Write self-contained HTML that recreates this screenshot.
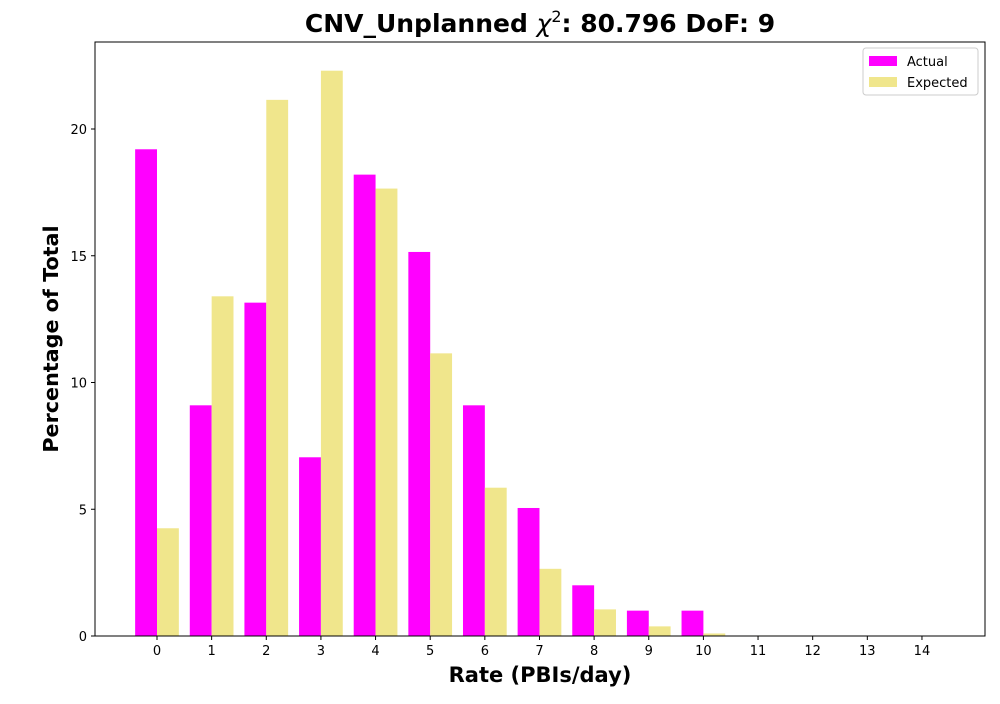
<!DOCTYPE html>
<html><head><meta charset="utf-8"><style>
body{margin:0;background:#fff;font-family:"DejaVu Sans","Liberation Sans",sans-serif}
</style></head><body>
<svg id="chart" width="1000" height="700" xmlns="http://www.w3.org/2000/svg">
<rect width="1000" height="700" fill="#fff"/>
<text x="540" y="32" text-anchor="middle" font-size="25" font-weight="bold">CNV_Unplanned <tspan font-style="italic" font-weight="normal">χ</tspan><tspan font-size="16" dy="-10" font-weight="normal">2</tspan><tspan dy="10">: 80.796 DoF: 9</tspan></text>
<g id="bars"></g>
<g id="ticks"></g>
<rect x="95" y="42" width="890" height="594" fill="none" stroke="#000" stroke-width="1"/>
<text x="540" y="682" text-anchor="middle" font-size="21" font-weight="bold">Rate (PBIs/day)</text>
<text transform="translate(58,339) rotate(-90)" text-anchor="middle" font-size="20.7" font-weight="bold">Percentage of Total</text>
<g>
<rect x="863" y="48" width="115" height="47" rx="3" fill="#fff" stroke="#ccc"/>
<rect x="869" y="56" width="28" height="10" fill="#ff00ff"/>
<text x="907" y="66" font-size="13">Actual</text>
<rect x="869" y="77" width="28" height="10" fill="#f0e68c"/>
<text x="907" y="87" font-size="13">Expected</text>
</g>
</svg>
<script>
const categories=[0,1,2,3,4,5,6,7,8,9,10,11,12,13,14];
const actual=[19.2,9.1,13.15,7.05,18.2,15.15,9.1,5.05,2.0,1.0,1.0,0,0,0,0];
const expected=[4.25,13.4,21.15,22.3,17.65,11.15,5.85,2.65,1.05,0.38,0.1,0.02,0.005,0,0];
const yTicks=[0,5,10,15,20];
const NS="http://www.w3.org/2000/svg";
const x=v=>157+(v)*54.64;
const y=v=>636-v*25.35;
const bars=document.getElementById('bars');
const ticks=document.getElementById('ticks');
const bw=0.4*54.64;
categories.forEach((c,i)=>{
  [[actual,'#ff00ff',-0.4,'actual'],[expected,'#f0e68c',0,'expected']].forEach(([arr,col,off,nm])=>{
    const r=document.createElementNS(NS,'rect');
    const v=arr[i];
    r.setAttribute('x',x(c+off));r.setAttribute('width',bw);
    r.setAttribute('y',y(v));r.setAttribute('height',Math.max(0,636-y(v)));
    r.setAttribute('fill',col);
    
    
    bars.appendChild(r);
  });
  const l=document.createElementNS(NS,'line');
  l.setAttribute('x1',x(c));l.setAttribute('x2',x(c));l.setAttribute('y1',636);l.setAttribute('y2',640);l.setAttribute('stroke','#000');
  
  
  ticks.appendChild(l);
  const t=document.createElementNS(NS,'text');
  t.setAttribute('x',x(c));t.setAttribute('y',655);t.setAttribute('text-anchor','middle');t.setAttribute('font-size','13');
  t.textContent=c;
  
  
  ticks.appendChild(t);
});
yTicks.forEach(v=>{
  const l=document.createElementNS(NS,'line');
  l.setAttribute('x1',91);l.setAttribute('x2',95);l.setAttribute('y1',y(v));l.setAttribute('y2',y(v));l.setAttribute('stroke','#000');
  
  
  ticks.appendChild(l);
  const t=document.createElementNS(NS,'text');
  t.setAttribute('x',87);t.setAttribute('y',y(v)+5);t.setAttribute('text-anchor','end');t.setAttribute('font-size','13');
  t.textContent=v;
  
  
  ticks.appendChild(t);
});
</script>
</body></html>
